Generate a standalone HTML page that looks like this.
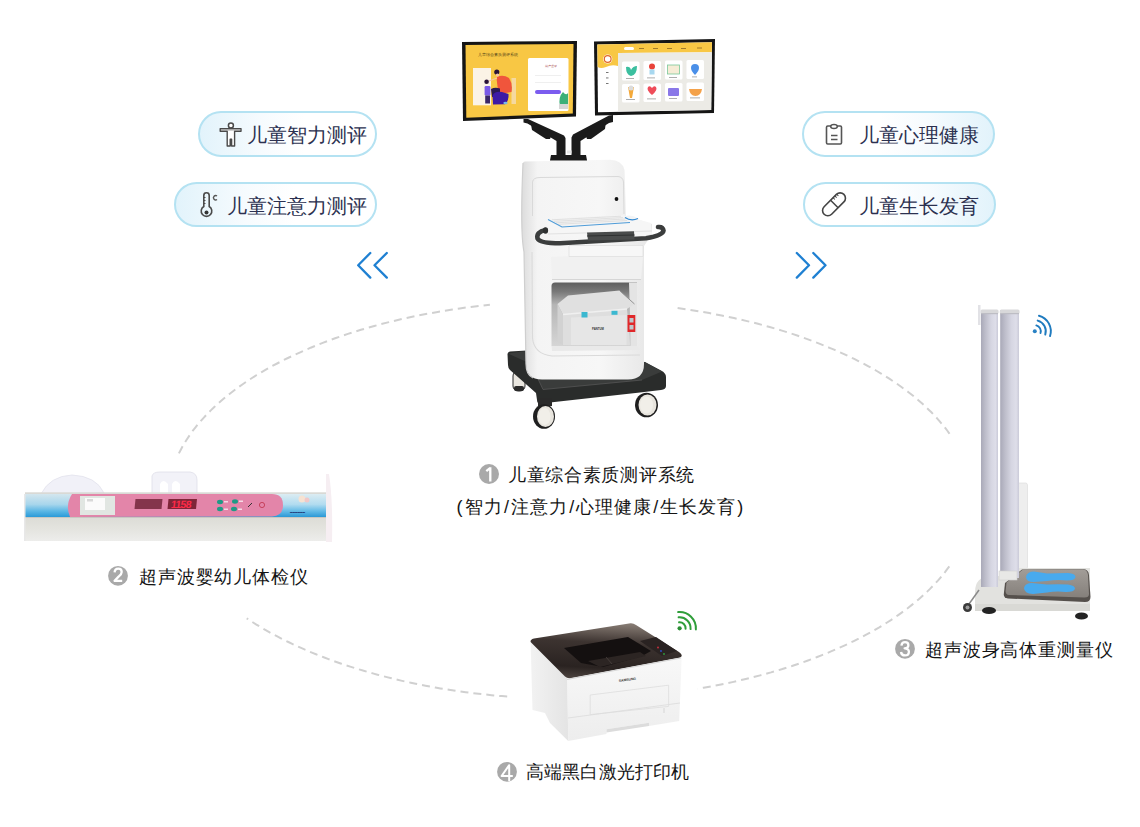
<!DOCTYPE html>
<html><head><meta charset="utf-8">
<style>
html,body{margin:0;padding:0;background:#fff;}
body{width:1140px;height:827px;overflow:hidden;position:relative;font-family:"Liberation Sans",sans-serif;}
svg{position:absolute;left:0;top:0;}
.t{position:absolute;white-space:nowrap;line-height:1;}
.lbl{font-size:18px;color:#141414;font-weight:300;}
.pill{position:absolute;height:43px;border:2px solid #b4e2f2;border-radius:23px;box-sizing:border-box;}
.pl{background:linear-gradient(90deg,#e2f3fb 0%,#f6fbfe 35%,#fff 60%);}
.pr{background:linear-gradient(270deg,#e2f3fb 0%,#f6fbfe 35%,#fff 60%);}
.ptxt{font-size:19.5px;color:#2c3150;font-weight:300;}
.s{padding:0 1.5px;}
.num{position:absolute;width:20px;height:20px;border-radius:50%;background:#aaa;color:#fff;font-size:16px;font-weight:bold;text-align:center;line-height:20px;}
</style></head>
<body>
<svg width="1140" height="827" viewBox="0 0 1140 827">
<g fill="none" stroke="#d0d0d0" stroke-width="2" stroke-dasharray="8 5">
<path d="M178.9,453.4 L180.8,449.7 L182.8,446.0 L185.0,442.3 L187.3,438.7 L189.7,435.1 L192.3,431.4 L195.1,427.9 L197.9,424.3 L200.9,420.8 L204.1,417.3 L207.3,413.8 L210.8,410.4 L214.3,407.0 L218.0,403.6 L221.8,400.3 L225.7,397.0 L229.8,393.7 L234.0,390.5 L238.3,387.3 L242.7,384.2 L247.3,381.1 L252.0,378.0 L256.7,375.0 L261.7,372.1 L266.7,369.2 L271.8,366.3 L277.1,363.5 L282.4,360.7 L287.9,358.0 L293.4,355.4 L299.1,352.8 L304.9,350.2 L310.7,347.7 L316.7,345.3 L322.7,342.9 L328.9,340.6 L335.1,338.3 L341.5,336.1 L347.9,333.9 L354.3,331.9 L360.9,329.8 L367.6,327.9 L374.3,326.0 L381.1,324.1 L387.9,322.4 L394.9,320.7 L401.9,319.0 L408.9,317.5 L416.0,316.0 L423.2,314.5 L430.4,313.2 L437.7,311.9 L445.0,310.7 L452.4,309.5 L459.8,308.4 L467.3,307.4 L474.8,306.5 L482.3,305.6 L489.9,304.8"/>
<path d="M677.6,308.0 L684.0,308.9 L690.4,309.9 L696.7,310.9 L703.0,312.0 L709.3,313.1 L715.5,314.3 L721.7,315.5 L727.9,316.8 L734.0,318.1 L740.1,319.4 L746.1,320.9 L752.1,322.3 L758.0,323.8 L763.8,325.4 L769.7,327.0 L775.4,328.7 L781.1,330.4 L786.8,332.1 L792.3,333.9 L797.9,335.8 L803.3,337.7 L808.7,339.6 L814.1,341.6 L819.3,343.6 L824.5,345.7 L829.6,347.8 L834.7,349.9 L839.7,352.1 L844.6,354.3 L849.4,356.6 L854.2,358.9 L858.9,361.3 L863.5,363.7 L868.0,366.1 L872.4,368.5 L876.8,371.0 L881.1,373.6 L885.2,376.1 L889.3,378.7 L893.3,381.4 L897.3,384.0 L901.1,386.7 L904.8,389.5 L908.5,392.2 L912.1,395.0 L915.5,397.8 L918.9,400.7 L922.2,403.6 L925.3,406.5 L928.4,409.4 L931.4,412.3 L934.3,415.3 L937.1,418.3 L939.7,421.3 L942.3,424.4 L944.8,427.4 L947.2,430.5 L949.4,433.6 L951.6,436.7"/>
<path d="M949.3,566.4 L947.2,569.2 L945.0,572.1 L942.7,574.9 L940.3,577.8 L937.9,580.6 L935.3,583.4 L932.7,586.1 L930.0,588.9 L927.2,591.6 L924.3,594.3 L921.3,597.0 L918.2,599.7 L915.1,602.3 L911.9,604.9 L908.6,607.5 L905.2,610.1 L901.7,612.6 L898.2,615.1 L894.6,617.6 L890.9,620.1 L887.1,622.5 L883.2,624.9 L879.3,627.3 L875.3,629.6 L871.2,631.9 L867.1,634.2 L862.9,636.4 L858.6,638.7 L854.3,640.8 L849.9,643.0 L845.4,645.1 L840.8,647.2 L836.2,649.2 L831.6,651.2 L826.8,653.2 L822.0,655.1 L817.2,657.0 L812.3,658.9 L807.3,660.7 L802.3,662.5 L797.2,664.2 L792.0,666.0 L786.9,667.6 L781.6,669.3 L776.3,670.8 L771.0,672.4 L765.6,673.9 L760.2,675.4 L754.7,676.8 L749.2,678.2 L743.6,679.5 L738.0,680.8 L732.4,682.1 L726.7,683.3 L721.0,684.5 L715.2,685.6 L709.4,686.7 L703.6,687.7 L697.8,688.7"/>
<path d="M507.2,696.5 L501.9,696.1 L496.7,695.7 L491.5,695.2 L486.3,694.6 L481.2,694.1 L476.0,693.5 L470.9,692.8 L465.7,692.2 L460.6,691.5 L455.6,690.8 L450.5,690.0 L445.4,689.2 L440.4,688.4 L435.4,687.5 L430.4,686.6 L425.5,685.7 L420.6,684.7 L415.7,683.7 L410.8,682.7 L405.9,681.7 L401.1,680.6 L396.3,679.5 L391.6,678.3 L386.8,677.1 L382.1,675.9 L377.5,674.7 L372.8,673.4 L368.2,672.1 L363.7,670.8 L359.1,669.4 L354.6,668.0 L350.2,666.6 L345.8,665.2 L341.4,663.7 L337.1,662.2 L332.8,660.7 L328.5,659.1 L324.3,657.5 L320.1,655.9 L316.0,654.3 L311.9,652.6 L307.9,650.9 L303.9,649.2 L299.9,647.4 L296.0,645.7 L292.2,643.9 L288.4,642.0 L284.6,640.2 L280.9,638.3 L277.3,636.4 L273.7,634.5 L270.1,632.6 L266.6,630.6 L263.1,628.6 L259.8,626.6 L256.4,624.6 L253.1,622.5 L249.9,620.4 L246.7,618.3"/>
</g>
  
  <defs>
    <linearGradient id="bodyG" x1="0" x2="1" y1="0" y2="0">
      <stop offset="0" stop-color="#dcdcdc"/><stop offset="0.12" stop-color="#f4f4f4"/><stop offset="0.6" stop-color="#f7f7f7"/><stop offset="1" stop-color="#e6e6e6"/>
    </linearGradient>
    <linearGradient id="cabG" x1="0" x2="0" y1="0" y2="1">
      <stop offset="0" stop-color="#6e6e6e"/><stop offset="0.4" stop-color="#b5b5b5"/><stop offset="1" stop-color="#d9d9d9"/>
    </linearGradient>
    <radialGradient id="wheelG" cx="0.45" cy="0.45" r="0.6">
      <stop offset="0" stop-color="#f2f0ea"/><stop offset="1" stop-color="#cfccc4"/>
    </radialGradient>
  </defs>


  <g fill="none" stroke="#1f80d2" stroke-width="2.3" stroke-linecap="round" stroke-linejoin="round">
    <path d="M370.3,253 L358.2,265.2 L370.3,277.6"/><path d="M386.8,253 L374.5,265.2 L386.8,277.6"/>
    <path d="M796.8,253 L809,265.2 L796.8,277.6"/><path d="M813.3,253 L825.5,265.2 L813.3,277.6"/>
  </g>
  <!-- infant device -->
  <g id="infant">
    <defs>
      <linearGradient id="infBody" x1="0" x2="0" y1="0" y2="1">
        <stop offset="0" stop-color="#dcdcd6"/><stop offset="0.5" stop-color="#e4e4df"/><stop offset="1" stop-color="#ededeb"/>
      </linearGradient>
      <linearGradient id="infBlueL" x1="0" x2="0" y1="0" y2="1">
        <stop offset="0" stop-color="#d4e6ee"/><stop offset="0.45" stop-color="#a8d6ec"/><stop offset="0.75" stop-color="#5ab6e4"/><stop offset="1" stop-color="#2a9ad8"/>
      </linearGradient>
      <linearGradient id="infBlueR" x1="0" x2="0" y1="0" y2="1">
        <stop offset="0" stop-color="#dcecf2"/><stop offset="0.45" stop-color="#b2dcf0"/><stop offset="0.75" stop-color="#62bae6"/><stop offset="1" stop-color="#2a98d6"/>
      </linearGradient>
    </defs>
    <path d="M41,494 Q50,476 72,475 Q96,476 104,493 Z" fill="#f1f1f8" stroke="#e2e2ec" stroke-width="0.8"/>
    <path d="M152,494 L152,476 Q153,472 160,472 L190,472 Q197,473 197,480 L197,494 Z" fill="#f2f2f8" stroke="#dedee8" stroke-width="0.8"/>
    <path d="M160,494 L160,484 Q163,478 168,484 L168,494 Z" fill="#fff"/>
    <path d="M172,494 L172,484 Q175,478 180,484 L180,494 Z" fill="#fff"/>
    <rect x="25" y="492.3" width="301" height="2.5" fill="#d9d9d5"/>
    <path d="M326,474 L329,474 Q333,500 332,542 L326,542 Z" fill="#f6eef2"/>
    <rect x="25" y="494" width="301" height="23" fill="url(#infBlueR)"/>
    <path d="M25,494 L72,494 Q66,505 70,517 L25,517 Z" fill="url(#infBlueL)"/>
    <path d="M72,494 L272,494 Q283,494 283,505 Q283,516 272,516.5 L70,517 Q65,505 72,494 Z" fill="#e385a9"/>
    <rect x="80" y="496" width="35" height="19" fill="#e1e6e2"/>
    <rect x="85" y="498" width="20" height="12" fill="#fbfbfb"/>
    <rect x="87" y="499" width="6" height="2.5" fill="#d8d8d8"/>
    <path d="M135.5,499 L162.5,499 L161.5,509 L134.5,509 Z" fill="#84344b"/>
    <path d="M168.5,499 L197,499 L196,509 L167.5,509 Z" fill="#7e2538"/>
    <text x="172" y="508.3" font-size="10.5" fill="#ff2a48" font-family="Liberation Sans" font-weight="bold" letter-spacing="-0.8" transform="skewX(-8)" style="transform-box:fill-box">1158</text>
    <g fill="#1f9a86"><ellipse cx="220" cy="502" rx="3" ry="2.2"/><ellipse cx="235" cy="501.5" rx="3" ry="2.2"/><ellipse cx="220" cy="509" rx="3" ry="2.2"/><ellipse cx="234" cy="509" rx="3" ry="2.2"/></g>
    <g fill="#fff" opacity="0.7"><rect x="224" y="501" width="4" height="1.5"/><rect x="239" y="500.5" width="4" height="1.5"/><rect x="224" y="508.5" width="4" height="1.5"/><rect x="238" y="508.5" width="4" height="1.5"/></g>
    <circle cx="262" cy="505" r="2.6" fill="none" stroke="#c0304a" stroke-width="0.8"/>
    <path d="M248,507 L252,503" stroke="#333" stroke-width="1"/>
    <circle cx="302" cy="499" r="3.5" fill="#f6e2d2"/><circle cx="307" cy="500" r="2.5" fill="#f0c8c8"/>
    <text x="290" y="513" font-size="2.5" fill="#1a2a6a" font-family="Liberation Sans">▬▬▬▬▬▬</text>
    <rect x="25" y="517" width="301" height="24" fill="url(#infBody)"/>
    <rect x="25" y="517" width="301" height="1" fill="#c8c8c2"/>
    <rect x="24" y="494" width="1.5" height="47" fill="#e8e8e8"/>
  </g>
  <!-- height meter -->
  <g id="meter">
    <defs>
      <linearGradient id="colG" x1="0" x2="1" y1="0" y2="0">
        <stop offset="0" stop-color="#a9a9b8"/><stop offset="0.25" stop-color="#bdbdca"/><stop offset="0.6" stop-color="#d6d6e2"/><stop offset="0.85" stop-color="#dedee9"/><stop offset="1" stop-color="#cacad8"/>
      </linearGradient>
      <linearGradient id="plateG" x1="0" x2="0" y1="0" y2="1">
        <stop offset="0" stop-color="#a29d98"/><stop offset="1" stop-color="#85807b"/>
      </linearGradient>
    </defs>
    <rect x="1016.5" y="483" width="11" height="86" rx="2" fill="#eeeeee" stroke="#dadada" stroke-width="0.6"/>
    <path d="M975,592 Q975,577 990,576 L1004,576 L1004,568 L1090,568 L1090,611 L975,611 Z" fill="#e2e2df"/>
    <path d="M975,604 L1090,604 L1090,611 L975,611 Z" fill="#d9d9d5"/>
    <path d="M1022,569.5 L1083,569 Q1088.5,569.5 1089,575 L1090.5,597 Q1090.5,602 1085,602 L1008,598.5 Q1003.5,598 1003.8,594 L1005,583 Z" fill="#55504c"/>
    <path d="M1023,569.5 L1083,569.2 Q1087.5,569.8 1088,575 L1089,594 Q1089,597.5 1084.5,597.5 L1009,595 Q1005.5,594.5 1005.6,591 L1006.5,582.5 Z" fill="url(#plateG)"/>
    <g fill="#48aaee">
      <path d="M1026,577 Q1027,571.5 1034,571.5 L1047,573.5 Q1058,573 1068,573 Q1075.5,573.5 1075.5,577 Q1075,580.5 1067,580.5 Q1057,579.5 1047,581 L1034,582 Q1026,582 1026,577 Z"/>
      <path d="M1024,588 Q1025,583 1032,583 L1047,584.5 Q1058,584 1068,584.5 Q1075,585.5 1075,588.5 Q1074.5,592 1066,592 Q1056,591 1047,592.5 L1033,594 Q1024,593.5 1024,588 Z"/>
    </g>
    <ellipse cx="989" cy="610.5" rx="7" ry="3.6" fill="#232323"/>
    <ellipse cx="1081.5" cy="616" rx="6.5" ry="3.6" fill="#232323"/>
    <path d="M969,604 L979,590" stroke="#8a8a8a" stroke-width="1.5"/>
    <circle cx="967.5" cy="607.5" r="4.5" fill="#3a3a3a"/>
    <circle cx="967.5" cy="607.5" r="2" fill="#9a9a9a"/>
    <rect x="981" y="310" width="17" height="277" fill="url(#colG)"/>
    <rect x="1000.2" y="310" width="18.8" height="268" fill="url(#colG)"/>
    <rect x="980.5" y="309.5" width="18" height="4.5" rx="1.5" fill="#d8d8da"/><rect x="981" y="313" width="17" height="1.2" fill="#bdbdc4"/>
    <rect x="999.8" y="309.5" width="19.7" height="4.5" rx="1.5" fill="#d8d8da"/><rect x="1000.2" y="313" width="18.8" height="1.2" fill="#bdbdc4"/>
    <rect x="978" y="305" width="2.5" height="20" fill="#e2e2e6"/>
    <rect x="999" y="571" width="18" height="9" fill="#e8e8e6" stroke="#d0d0d0" stroke-width="0.6"/>
    <g fill="none" stroke="#1f7bbf" stroke-width="1.9" stroke-linecap="round">
    <path d="M1036.35,325.40 A6,6 0 0 1 1040.51,333.05"/>
    <path d="M1037.65,320.57 A11,11 0 0 1 1045.26,334.60"/>
    <path d="M1038.94,315.75 A16,16 0 0 1 1050.02,336.14"/>
    </g>
    <circle cx="1034.8" cy="331.2" r="2" fill="#2a82c4"/>
  </g>
  <!-- printer -->
  <g id="printer">
    <defs>
      <linearGradient id="lidG" x1="0.5" x2="0.35" y1="0" y2="1">
        <stop offset="0" stop-color="#857a72"/><stop offset="0.35" stop-color="#3c3330"/><stop offset="0.8" stop-color="#2a2321"/><stop offset="1" stop-color="#4a413d"/>
      </linearGradient>
      <linearGradient id="sideG" x1="0" x2="1" y1="0" y2="0">
        <stop offset="0" stop-color="#f2f2f2"/><stop offset="1" stop-color="#e4e4e4"/>
      </linearGradient>
      <linearGradient id="frontG" x1="0" x2="0" y1="0" y2="1">
        <stop offset="0" stop-color="#f8f8f8"/><stop offset="1" stop-color="#ededed"/>
      </linearGradient>
    </defs>
    <path d="M530.6,642 L567.4,678 L568.2,741 L550,723 L545,713 L532.5,710 Z" fill="url(#sideG)"/>
    <path d="M567.4,678 L681.7,656.6 L679.2,721 L649,726 L649,722.8 L606.5,729.3 L606.5,734 L568.2,741 Z" fill="url(#frontG)"/>
    <path d="M606.5,729.3 L649,722.8 L649,726 L606.5,732.5 Z" fill="#dcdcdc"/>
    <path d="M530.6,642 Q530,639.5 534,638.5 L629,623.5 Q633,622.8 636,625 L679,652 Q684,655.5 680,657.5 L571,678 Q567.5,678.8 565,676.5 Z" fill="url(#lidG)"/>
    <path d="M564,648 L628,637 L651,651 L642,656 L603,667 L581,663 Z" fill="#141010"/>
    <path d="M588,661 L640,652 L646,656 L600,667 Z" fill="#2c2523"/>
    <path d="M606,657 L612,664" stroke="#4a4240" stroke-width="0.8"/>
    <path d="M640,641 L656,637 L677,651 L662,656 Z" fill="#2a2322"/>
    <circle cx="658" cy="647.5" r="0.9" fill="#d03040"/><circle cx="661" cy="651" r="0.9" fill="#3050d0"/><circle cx="664" cy="654" r="0.9" fill="#30a040"/>
    <path d="M567,679.5 L681,658" stroke="#d6d6d6" stroke-width="1"/>
    <path d="M590.2,695 L668.6,685.2 L668.6,706.4 L590.2,714.6 Z" fill="none" stroke="#e0e0e0" stroke-width="0.9"/>
    <path d="M568,718 L680,703" stroke="#dedede" stroke-width="0.9"/>
    <path d="M664,708 L664,713" stroke="#cfcfcf" stroke-width="0.8"/>
    <text x="619" y="682" font-size="3.4" fill="#2a2a2a" font-family="Liberation Sans" font-weight="bold" transform="rotate(-8 619 682)">SAMSUNG</text>
    <g fill="none" stroke="#2f9e3a" stroke-width="2" stroke-linecap="round">
    <path d="M679.08,622.32 A6,6 0 0 1 685.59,628.72"/>
    <path d="M678.64,617.34 A11,11 0 0 1 690.57,629.07"/>
    <path d="M678.18,612.06 A16.3,16.3 0 0 1 695.86,629.44"/>
    </g>
    <circle cx="679.6" cy="628.3" r="2.1" fill="#2a8e34"/>
  </g>
  <!-- cart base -->
  <g id="cart">
    <!-- back-left wheel -->
    <rect x="513" y="371" width="12" height="20" rx="5" fill="#e9e6df" stroke="#2a2a2a" stroke-width="1"/>
    <rect x="514" y="386" width="10" height="5" rx="2" fill="#2a2a2a"/>
    <!-- base -->
    <path d="M507.5,354 Q507.5,352 510,351.5 L527,350.5 L645,362 L661,370.5 Q666,373 666,377 L666,386 Q666,389.5 661,390 L640,392.5 L541,403.5 Q537,404 537,400 L536,393 L510,370 Q508,368 508,365 Z" fill="#2a2c2b"/>
    <path d="M508,353.5 L527,350.8 L645,362.3 L662,371.5 L642,380 L543,389.5 L531,364 Z" fill="#3a3c3b"/>
    <path d="M531,364 L543,389.5 L642,380" fill="none" stroke="#555" stroke-width="0.8"/>
    <!-- front wheels -->
    <rect x="538" y="398" width="14" height="8" fill="#2a2a2a"/>
    <ellipse cx="544" cy="416.5" rx="11" ry="12.3" fill="#1f1f1f"/>
    <ellipse cx="545.5" cy="416.5" rx="8.5" ry="10.5" fill="#e8e5de"/>
    <ellipse cx="544.5" cy="416.5" rx="6" ry="8.5" fill="#f1efe9"/>
    <ellipse cx="646.5" cy="405" rx="11.5" ry="12.3" fill="#1f1f1f"/>
    <ellipse cx="647.5" cy="405" rx="9" ry="10.5" fill="#e8e5de"/>
    <ellipse cx="646.5" cy="405" rx="6.5" ry="8.5" fill="#f1efe9"/>
    <!-- body -->
    <path d="M523,163 Q523,161.5 525,161.5 L610,159.8 Q622,160 624.5,170 L626,216 L652,224 L652,234 L644,246 L644,364 Q644,379.5 628,379.5 L542,379.5 Q526,379.5 526,364 L524,252 Q520,232 523,163 Z" fill="url(#bodyG)"/>
    <path d="M523,163 Q520,232 524,252 L526,364 Q526,375 533,378" fill="none" stroke="#cfcfcf" stroke-width="1.2"/>
    <path d="M532.5,216 L532.5,182 Q533,177.5 540,177.5 L618,176.5 Q623,177 623.5,182 L624,214" fill="none" stroke="#d9d9d9" stroke-width="1"/>
    <circle cx="616.5" cy="199" r="1.9" fill="#111"/>
    <path d="M532,252 L532.5,338 Q534,354 552,356 L640,355" fill="none" stroke="#dadada" stroke-width="1.1"/>
    <path d="M551.5,346 L637,346 L641,350 L552,351 Z" fill="#e9e9e9"/>
    
    <!-- drawer -->
    <path d="M551,257 L569,256 L569,245.5 L643,245.5 L643,257 L641,279.5 L552,279.5 Z" fill="#f1f1f1"/>
    <path d="M569,245.5 L643,245.5 L643,256.5 L569,256.5 Z" fill="#f7f7f7" stroke="#dcdcdc" stroke-width="0.7"/>
    <path d="M552,279.5 L641,279.5" stroke="#d6d6d6" stroke-width="1"/>
    <!-- cabinet opening -->
    <defs>
      <linearGradient id="cab2" x1="0" x2="0" y1="0" y2="1">
        <stop offset="0" stop-color="#5e5e5e"/><stop offset="0.15" stop-color="#7a7a7a"/><stop offset="0.35" stop-color="#b5b5b5"/><stop offset="1" stop-color="#d5d5d5"/>
      </linearGradient>
    </defs>
    <path d="M551.5,286 Q551.5,282.5 555,282.5 L637,282.5 L637,346 L551.5,346 Z" fill="url(#cab2)"/>
    <path d="M629,282.5 L637,282.5 L637,346 L631,346 Z" fill="#e4e4e4"/>
    <!-- inner printer -->
    <path d="M557.5,304 L568,295.5 L619.5,290.5 L634.5,304 L627,309 L563,314.5 Z" fill="#e0e0e0"/>
    <path d="M619.5,290.5 L634.5,304" fill="none" stroke="#8a8a8a" stroke-width="0.9"/>
    <path d="M563,314.5 L627,309 L630,345 L563,345 Z" fill="#dedede"/>
    <path d="M557.5,304 L563,314.5 L563,345 L557.5,341 Z" fill="#d2d2d2"/>
    <path d="M571,317.5 L626.5,315 L626.5,345 L571,345 Z" fill="#e6e6e6"/>
    <path d="M563,314.5 L627,309" stroke="#f0f0f0" stroke-width="1.5"/>
    <rect x="581.5" y="312" width="6" height="5.5" fill="#3bb8d0"/>
    <rect x="611.5" y="310.8" width="6" height="4" fill="#3bb8d0"/>
    <rect x="627.5" y="315" width="7.8" height="17" fill="#e0282a"/>
    <rect x="629.5" y="318" width="4" height="4.5" fill="#bfc8cc"/>
    <rect x="629.5" y="325" width="4" height="4.5" fill="#bfc8cc"/>
    <text x="592" y="330" font-size="2.8" fill="#333" font-family="Liberation Sans" font-weight="bold">PANTUM</text>
    <!-- tray -->
    <path d="M547,219.5 L622,215 L651,223 L652,234 L645,236 L548,236 Z" fill="#f6f6f6"/>
    <path d="M548,234 L652,231" stroke="#e2e2e2" stroke-width="1"/>
    <path d="M548,219 L622,215 L630,222.5 L562,227 Z" fill="#f3f3f3"/>
    <g stroke="#d4d4d4" stroke-width="0.6"><path d="M552,219.8 L621,216.2 M554,221.3 L623,217.6 M556,222.8 L625,219 M558,224.3 L627,220.5"/></g>
    <path d="M548,219.5 L562,227 L630,222.5" fill="none" stroke="#4f9cd8" stroke-width="1.1"/>
    <path d="M624,216.5 Q631,213.5 638,218.5 Q633,221.5 628,220.5 Z" fill="#f2f4f6"/>
    <path d="M625,217.5 Q631,221.5 638,218.5" fill="none" stroke="#2f87d0" stroke-width="1.3"/>
    <!-- handle -->
    <path d="M545.5,230 Q536,232 537.5,238.5 Q540,243.3 560,243.3 L646,238.3 Q663,235.5 663.5,230.5 Q663,226.5 658,227" fill="none" stroke="#3b3d3d" stroke-width="4.6" stroke-linecap="round"/>
    <ellipse cx="545.5" cy="230.5" rx="2.6" ry="3.2" fill="#2f3131"/>
    <path d="M587,232.5 L634,231.3 L634.5,239.5 L588,240.5 Z" fill="#4a4c4c"/>
    <path d="M587,236 L634.5,235" stroke="#2f3131" stroke-width="1"/>
  </g>

  <!-- left monitor -->
  <g id="monL">
    <path d="M462,42 L577,41 L576,116.5 L463,121 Z" fill="#151515"/>
    <path d="M465.5,45 L573.5,44 L572.8,113.5 L466.3,117.8 Z" fill="#f8c744"/>
    <text x="478" y="55.5" font-size="4.2" fill="#5a4a1a" font-family="Liberation Sans">儿童综合素质测评系统</text>
    <rect x="473" y="68" width="18" height="37.3" fill="#fbf3e6"/>
    <rect x="511.5" y="78" width="4.5" height="26" fill="#f5d9a0"/>
    <path d="M497,77 Q503,74 509,78 Q513,84 511.5,92 L500,94 Q496,86 497,77 Z" fill="#f0553c"/>
    <path d="M491,89 Q495,87 500,88.5 L500,97 L492,97 Z" fill="#2b1a55"/>
    <path d="M492.5,96 Q494,91 502,92 L508.5,94 Q509,101 505,104.3 L493,104.5 Z" fill="#3d1aa6"/>
    <ellipse cx="505.5" cy="103" rx="2.2" ry="1.3" fill="#78b8e8"/>
    <circle cx="496.8" cy="72" r="2.6" fill="#2a1238"/>
    <circle cx="497.5" cy="75" r="1.6" fill="#f6c4a8"/>
    <path d="M489,81 L497,78" stroke="#f6c4a8" stroke-width="1.2"/>
    <circle cx="486.6" cy="81.8" r="2.3" fill="#2a1238"/>
    <rect x="484.6" y="86" width="5.8" height="9.5" rx="1.2" fill="#7a5ae6"/>
    <rect x="485.2" y="95.5" width="4.8" height="8" fill="#3a2668"/>
    <rect x="528" y="58" width="40.5" height="53" rx="1.5" fill="#fff"/>
    <text x="545" y="67" font-size="2.6" fill="#a04040" font-family="Liberation Sans">用户登录</text>
    <rect x="535" y="75" width="26" height="0.6" fill="#e4e4e4"/>
    <rect x="535" y="82" width="26" height="0.6" fill="#e4e4e4"/>
    <rect x="535" y="90" width="26" height="4" rx="2" fill="#7b5cef"/>
    <path d="M560,106 Q558,97 563,92 Q566,96 568,93 L568,106 Z" fill="#3cb078"/>
    <rect x="559" y="104" width="9" height="5" fill="#d6d6d6"/>
  </g>
  <!-- right monitor -->
  <g id="monR">
    <path d="M594,41.5 L715,39 L714,113 L595,115.5 Z" fill="#151515"/>
    <path d="M597.3,44.5 L712,42.3 L711.2,110 L598,112.3 Z" fill="#fff"/>
    <path d="M597.3,44.5 L712,42.3 L711.8,52.2 L618,53 L618,66 Q612,64 606,67 Q601,69 597.6,67 Z" fill="#f8c744"/>
    <path d="M618,53 L711.8,52.2 L711.2,110 L618,111.3 Z" fill="#ecebe6"/>
    <rect x="624" y="47" width="10" height="3" rx="1.5" fill="#fff"/>
    <g fill="#a07a2a"><rect x="639" y="48" width="5" height="1"/><rect x="653" y="48" width="5" height="1"/><rect x="667" y="48" width="5" height="1"/><rect x="681" y="48" width="5" height="1"/><rect x="697" y="47.5" width="5" height="1"/></g>
    <circle cx="607.7" cy="59" r="4.6" fill="#fff"/>
    <circle cx="607.7" cy="59" r="3.4" fill="none" stroke="#e0682a" stroke-width="1.2"/>
    <g fill="#666"><rect x="606" y="72" width="2.5" height="0.9"/><rect x="606" y="77.5" width="2.5" height="0.9"/><rect x="606" y="83" width="2.5" height="0.9"/></g>
    <g fill="#fff">
      <rect x="622" y="61.5" width="17.5" height="19" rx="1.5"/><rect x="643.5" y="61" width="17.5" height="19" rx="1.5"/><rect x="665" y="60.5" width="17.5" height="19" rx="1.5"/><rect x="686.5" y="60" width="17.5" height="19" rx="1.5"/>
      <rect x="622" y="84" width="17.5" height="18.5" rx="1.5"/><rect x="643.5" y="83.5" width="17.5" height="18.5" rx="1.5"/><rect x="665" y="83" width="17.5" height="18.5" rx="1.5"/><rect x="686.5" y="82.5" width="17.5" height="18.5" rx="1.5"/>
    </g>
    <path d="M626,67 Q630,66 631,70 Q633,66 637,66 Q637,75 631,76 Q626,75 626,67 Z" fill="#3bbf9f"/>
    <circle cx="652" cy="66.5" r="3" fill="#e8433a"/><rect x="649.5" y="69.5" width="5" height="5" fill="#a8d8f0"/>
    <rect x="667.5" y="65" width="12" height="9" fill="#f6ecd6" stroke="#7ac89a" stroke-width="0.8"/>
    <path d="M695,64 Q699,64 699,68 Q699,71 695,75 Q691,71 691,68 Q691,64 695,64 Z" fill="#4a8fe8"/>
    <path d="M628,87 L634,87 L632,98 L630,98 Z" fill="#f4a93a"/><circle cx="631" cy="88" r="2.5" fill="#dcdcdc"/>
    <path d="M652,95 Q646,90 648,87 Q650,85 652,88 Q654,85 656,87 Q658,90 652,95 Z" fill="#ef4d5a"/>
    <rect x="668" y="88" width="11" height="8" rx="1" fill="#8a78e8"/>
    <path d="M689,89 L702,89 Q701,96 695.5,96 Q690,96 689,89 Z" fill="#f4a24a"/>
    <g fill="#999"><rect x="626" y="78" width="8" height="0.8"/><rect x="647" y="77.5" width="8" height="0.8"/><rect x="669" y="77" width="8" height="0.8"/><rect x="692" y="76.5" width="5" height="0.8"/><rect x="626" y="99" width="9" height="0.8"/><rect x="647" y="98.5" width="9" height="0.8"/><rect x="669" y="98" width="8" height="0.8"/><rect x="690" y="97.5" width="10" height="0.8"/></g>
  </g>
  <!-- monitor arms -->
  <g id="arms" fill="#1b1b1b">
    <path d="M523.5,119 L528,119 L564,135.5 L565.5,138 L565.5,156 L556.5,156 L556.5,141 L527.5,123.5 L523.5,122.5 Z"/>
    <path d="M531,124.5 L536,125 L552,133.5 L550,139 L546,139 L532,130 Z"/>
    <path d="M613,115 L609,115.5 L573,134.5 L571.5,137.5 L571.5,156 L580.5,156 L580.5,141 L609,123 L613,122 Z"/>
    <path d="M606,121.5 L601,122.5 L585,133.5 L587,139 L591,139 L605,129 Z"/>
    <path d="M551,155 L586,155 L587,160.5 L550,160.5 Z"/>
    <rect x="567" y="150.5" width="4.5" height="3" fill="#e6e6e6"/>
  </g>
</svg>

<!-- pills -->
<div class="pill pl" style="left:198px;top:111px;width:179px;height:46px;"></div>
<div class="pill pl" style="left:174px;top:182px;width:203px;height:45px;"></div>
<div class="pill pr" style="left:802px;top:111px;width:193px;height:46px;"></div>
<div class="pill pr" style="left:803px;top:182px;width:193px;height:45px;"></div>
<div class="t ptxt" style="left:247px;top:126px;">儿童智力测评</div>
<div class="t ptxt" style="left:227px;top:197px;">儿童注意力测评</div>
<div class="t ptxt" style="left:859px;top:126px;">儿童心理健康</div>
<div class="t ptxt" style="left:859px;top:197px;">儿童生长发育</div>
<svg width="1140" height="240" style="position:absolute;left:0;top:0;">
  <circle cx="230.9" cy="125.4" r="2.5" fill="#fff" stroke="#4a4a4a" stroke-width="1.5"/>
  <path d="M220.2,128.6 L241,128.6 L241,131.2 L234.6,131.2 L234.6,146 L231.6,146 L231.6,139.3 L230.2,139.3 L230.2,146 L227.2,146 L227.2,131.2 L220.2,131.2 Z" fill="#fff" stroke="#4a4a4a" stroke-width="1.4" stroke-linejoin="round"/>
  <rect x="221" y="129.4" width="19.2" height="1" fill="#8a8a8a"/>
  <!-- thermometer -->
  <path d="M203.8,206.5 L203.8,195.5 A2.7,2.7 0 0 1 209.2,195.5 L209.2,206.5 A5.3,5.3 0 1 1 203.8,206.5 Z" fill="none" stroke="#4a4a4a" stroke-width="1.6"/>
  <circle cx="206.5" cy="212.5" r="2" fill="#333"/>
  <g stroke="#4a4a4a" stroke-width="1.2"><path d="M204,197.5 L205.5,197.5 M204,200.5 L205.5,200.5 M204,203.5 L205.5,203.5"/></g>
  <path d="M217,196 A2.2,2.2 0 1 0 217,199.5" fill="none" stroke="#555" stroke-width="1.4"/>
  <!-- clipboard -->
  <rect x="826.5" y="126" width="15" height="18" rx="1.2" fill="none" stroke="#555" stroke-width="1.6"/>
  <ellipse cx="834" cy="126.4" rx="3.3" ry="2" fill="#fff" stroke="#555" stroke-width="1.5"/>
  <g stroke="#555" stroke-width="1.6"><path d="M831,135.5 L837.5,135.5 M831,139.5 L837.5,139.5"/></g>
  <!-- capsule -->
  <g transform="translate(834,204.3) rotate(-45)">
    <rect x="-14" y="-5.3" width="28" height="10.6" rx="5.3" fill="none" stroke="#444" stroke-width="1.6"/>
    <path d="M0.5,-5.3 L0.5,5.3" stroke="#444" stroke-width="1.5"/>
    <path d="M4,-5.3 L4,-2.8 M6.5,-5.3 L6.5,-2.8 M9,-5.3 L9,-2.8" stroke="#444" stroke-width="1"/>
  </g>
</svg>

<!-- labels -->
<div class="t lbl" style="left:508px;top:466px;letter-spacing:0.7px;">儿童综合素质测评系统</div>
<div class="t lbl" style="left:455px;top:498px;letter-spacing:0.8px;"><span class="s">(</span>智力<span class="s">/</span>注意力<span class="s">/</span>心理健康<span class="s">/</span>生长发育<span class="s">)</span></div>
<div class="t lbl" style="left:139px;top:568px;letter-spacing:0.85px;">超声波婴幼儿体检仪</div>
<div class="t lbl" style="left:925px;top:641px;letter-spacing:0.84px;">超声波身高体重测量仪</div>
<div class="t lbl" style="left:526px;top:763px;letter-spacing:0.14px;">高端黑白激光打印机</div>
<svg width="1140" height="827" style="position:absolute;left:0;top:0;">
  <g fill="#a9a9a9"><circle cx="489" cy="474" r="10"/><circle cx="118" cy="575.8" r="9.9"/><circle cx="905" cy="648.8" r="9.9"/><circle cx="507" cy="771.8" r="9.9"/></g>
  <g fill="none" stroke="#fff" stroke-width="2.3" stroke-linecap="butt" stroke-linejoin="round">
    <path d="M490.3,481.5 L490.3,467.3 M490.3,467.8 L486.3,471.2"/>
    <path d="M114.6,572.4 Q114.8,568.6 118.2,568.6 Q121.7,568.6 121.7,571.9 Q121.7,574.2 118.6,576.6 L114.6,580.8 L122.2,580.8"/>
    <path d="M901.4,645.6 Q901.9,642.2 905,642.2 Q908.4,642.2 908.4,645.2 Q908.4,648.2 904.6,648.3 Q908.9,648.5 908.9,651.7 Q908.9,655.4 905,655.4 Q901.4,655.4 901,652"/>
    <path d="M509.2,781 L509.2,765.2 L501.6,776 L512.8,776" stroke-width="2"/>
  </g>
</svg>
</body></html>
